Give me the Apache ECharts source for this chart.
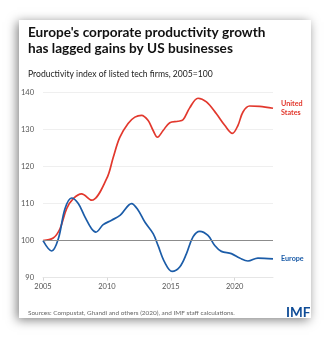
<!DOCTYPE html>
<html>
<head>
<meta charset="utf-8">
<style>
  html, body { margin: 0; padding: 0; background: #ffffff; }
  #card {
    position: absolute; left: 19px; top: 20px; width: 292px; height: 298px;
    background: #ffffff;
    box-shadow: -2px 2px 10px rgba(0,0,0,0.5);
  }
  #chart { position: absolute; left: 0; top: 0; width: 331px; height: 337px; }
</style>
<script src="https://cdn.jsdelivr.net/npm/echarts@6/dist/echarts.min.js"></script>
</head>
<body>
<div id="card"></div>
<div id="chart"></div>
<script>
// Productivity index of listed tech firms, 2005 = 100: [year, index]
const unitedStates = [
  [2005.0, 100.0], [2005.8, 100.7], [2006.33, 103.2], [2006.85, 108.6],
  [2007.37, 111.3], [2008.02, 112.6], [2008.8, 110.9], [2009.98, 116.7],
  [2010.5, 122.5], [2011.0, 127.8], [2011.66, 131.6], [2012.19, 133.3],
  [2012.71, 133.8], [2013.23, 132.4], [2013.62, 129.7], [2013.96, 127.9],
  [2014.4, 129.7], [2014.92, 131.8], [2015.57, 132.2], [2015.96, 132.6],
  [2016.48, 135.8], [2017.13, 138.4], [2017.79, 137.4], [2018.57, 134.2],
  [2019.22, 131.1], [2019.82, 128.9], [2020.26, 131.1], [2020.65, 134.7],
  [2021.17, 136.3], [2021.95, 136.2], [2023.0, 135.7]
];
const europe = [
  [2005.0, 100.0], [2005.68, 97.2], [2006.2, 100.5], [2006.72, 108.6],
  [2007.24, 111.5], [2007.76, 110.0], [2008.28, 106.4], [2008.8, 103.2],
  [2009.14, 102.3], [2009.71, 104.3], [2010.37, 105.5], [2011.05, 106.9],
  [2011.93, 110.0], [2012.45, 108.2], [2012.97, 105.0], [2013.62, 101.9],
  [2014.0, 98.7], [2014.52, 94.2], [2015.1, 91.7], [2015.7, 92.9],
  [2016.23, 96.5], [2016.74, 101.0], [2017.27, 102.5], [2017.91, 101.4],
  [2018.44, 98.7], [2018.96, 97.1], [2019.74, 96.5], [2020.39, 95.3],
  [2021.04, 94.5], [2021.82, 95.3], [2023.0, 95.1]
];
const yTicks = [90, 100, 110, 120, 130, 140];
const xTicks = [2005, 2010, 2015, 2020];
const baseline = 100;

const RED = '#e2382d';
const BLUE = '#1b5ca8';
const FONT = 'Lato, "Open Sans", sans-serif';

const chart = echarts.init(document.getElementById('chart'), null, { renderer: 'canvas' });

chart.setOption({
  backgroundColor: 'transparent',
  animation: false,
  textStyle: { fontFamily: FONT },
  title: [
    {
      text: "Europe's corporate productivity growth\nhas lagged gains by US businesses",
      left: 23, top: 20,
      textStyle: { fontFamily: FONT, fontWeight: 'bold', fontSize: 13.6, lineHeight: 15.5, color: '#111111' }
    },
    {
      text: 'Productivity index of listed tech firms, 2005=100',
      left: 23, top: 65,
      textStyle: { fontFamily: FONT, fontWeight: 'normal', fontSize: 8.6, color: '#222222' }
    },
    {
      text: 'Sources: Compustat, Ghandi and others (2020), and IMF staff calculations.',
      left: 23, top: 305,
      textStyle: { fontFamily: FONT, fontWeight: 'normal', fontSize: 6.4, color: '#666666' }
    },
    {
      text: 'IMF',
      left: 281, top: 301,
      textStyle: { fontFamily: FONT, fontWeight: 'bold', fontSize: 13.5, color: '#0f4c97' }
    }
  ],
  grid: { left: 43, right: 58, top: 92.3, bottom: 59.3 },
  xAxis: {
    type: 'value',
    min: xTicks[0], max: 2023, interval: 5,
    axisLine: { show: true, lineStyle: { color: '#e6e6e6', width: 1 } },
    axisTick: { show: true, length: 3, lineStyle: { color: '#d8d8d8' } },
    axisLabel: {
      color: '#555555', fontSize: 7.5, margin: 5, showMaxLabel: false,
      formatter: v => (xTicks.includes(v) ? String(v) : '')
    },
    splitLine: { show: false }
  },
  yAxis: {
    type: 'value',
    min: yTicks[0], max: yTicks[yTicks.length - 1], interval: 10,
    axisLine: { show: false },
    axisTick: { show: false },
    axisLabel: { color: '#555555', fontSize: 7.5, margin: 9 },
    splitLine: { show: true, lineStyle: { color: '#efefef', width: 1 } }
  },
  series: [
    {
      name: 'United States',
      type: 'line',
      data: unitedStates,
      smooth: 0.35,
      showSymbol: false,
      lineStyle: { color: RED, width: 1.7 },
      itemStyle: { color: RED },
      endLabel: {
        show: true, distance: 8,
        formatter: p => p.seriesName.replace(' ', '\n'),
        color: RED, fontSize: 7.2, fontWeight: 'bold', lineHeight: 9
      },
      markLine: {
        silent: true, symbol: 'none', label: { show: false },
        lineStyle: { color: '#8c8c8c', width: 1.1, type: 'solid' },
        data: [{ yAxis: baseline }]
      },
      z: 3
    },
    {
      name: 'Europe',
      type: 'line',
      data: europe,
      smooth: 0.35,
      showSymbol: false,
      lineStyle: { color: BLUE, width: 1.7 },
      itemStyle: { color: BLUE },
      endLabel: {
        show: true, distance: 8,
        formatter: p => p.seriesName,
        color: BLUE, fontSize: 7.2, fontWeight: 'bold'
      },
      z: 3
    }
  ]
});
</script>
</body>
</html>
